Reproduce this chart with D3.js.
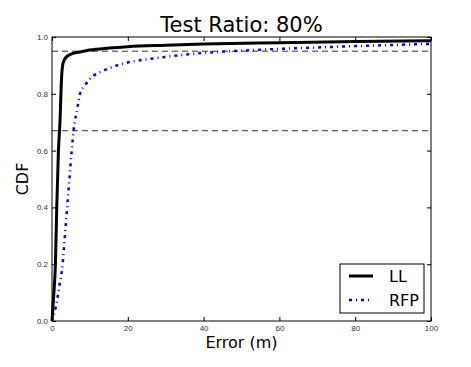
<!DOCTYPE html>
<html>
<head>
<meta charset="utf-8">
<script src="https://cdn.jsdelivr.net/npm/d3@7"></script>
<style>
  body { margin: 0; background: #fff; }
  svg { display: block; font-family: "DejaVu Sans", sans-serif; }
</style>
</head>
<body>
<div id="chart-area"></div>
<script>
// data
var llErr = [0, 0.5, 0.9, 1.25, 1.7, 2.1, 2.5, 2.8, 3.2, 3.6, 4.2, 5, 6, 8, 10, 15, 20, 30, 40, 60, 80, 100];
var llCdf = [0, 0.1, 0.2, 0.4, 0.6, 0.7, 0.85, 0.9, 0.918, 0.927, 0.934, 0.94, 0.944, 0.949, 0.954, 0.961, 0.966, 0.971, 0.975, 0.98, 0.984, 0.987];

var rfpErr = [0, 1, 1.9, 2.8, 3.4, 4.0, 4.6, 5.2, 5.7, 6.7, 7.4, 8.7, 10.6, 13.4, 16.2, 19.3, 22.3, 25.4, 30, 40, 50, 60, 70, 80, 90, 100];
var rfpCdf = [0, 0.05, 0.12, 0.2, 0.3, 0.4, 0.5, 0.6, 0.67, 0.75, 0.8, 0.83, 0.86, 0.88, 0.896, 0.908, 0.916, 0.922, 0.93, 0.944, 0.952, 0.958, 0.963, 0.968, 0.972, 0.976];

var refLines = [0.95, 0.67];
var xTicks = [0, 20, 40, 60, 80, 100];
var yTicks = [0, 0.2, 0.4, 0.6, 0.8, 1.0];

var svgWidth = 471, svgHeight = 367;
var margin = { top: 37, left: 52, right: 40, bottom: 46 };
var width = svgWidth - margin.left - margin.right;
var height = svgHeight - margin.top - margin.bottom;

var svg = d3.select("#chart-area").append("svg")
    .attr("width", svgWidth)
    .attr("height", svgHeight);

var g = svg.append("g")
    .attr("transform", "translate(" + margin.left + "," + margin.top + ")");

var x = d3.scaleLinear().domain([0, 100]).range([0, width]);
var y = d3.scaleLinear().domain([0, 1]).range([height, 0]);

// axes with inward ticks
function styleAxis(sel) {
    sel.select(".domain").remove();
    sel.selectAll("line").attr("stroke", "#000");
    sel.selectAll("text").attr("fill", "#333").attr("font-size", "8px");
}

g.append("g").attr("transform", "translate(0," + height + ")")
    .call(d3.axisBottom(x).tickValues(xTicks).tickSizeInner(-4).tickPadding(4).tickFormat(d3.format("d")))
    .call(styleAxis);
g.append("g").call(d3.axisTop(x).tickValues(xTicks).tickSizeInner(-4).tickFormat(""))
    .call(styleAxis);
g.append("g")
    .call(d3.axisLeft(y).tickValues(yTicks).tickSizeInner(-4).tickPadding(4).tickFormat(d3.format(".1f")))
    .call(styleAxis);
g.append("g").attr("transform", "translate(" + width + ",0)")
    .call(d3.axisRight(y).tickValues(yTicks).tickSizeInner(-4).tickFormat(""))
    .call(styleAxis);

// reference lines
g.selectAll(".ref").data(refLines).enter().append("line")
    .attr("x1", 0).attr("x2", width)
    .attr("y1", d => y(d)).attr("y2", d => y(d))
    .attr("stroke", "#333").attr("stroke-width", 1)
    .attr("stroke-dasharray", "6,4");

var line = d3.line().x(d => x(d[0])).y(d => y(d[1])).curve(d3.curveMonotoneX);

g.append("path")
    .datum(d3.zip(rfpErr, rfpCdf))
    .attr("d", line)
    .attr("fill", "none")
    .attr("stroke", "#0000ff")
    .attr("stroke-width", 2.5)
    .attr("stroke-dasharray", "3,4,1,4");

g.append("path")
    .datum(d3.zip(llErr, llCdf))
    .attr("d", line)
    .attr("fill", "none")
    .attr("stroke", "#000")
    .attr("stroke-width", 3);

// frame
g.append("rect")
    .attr("width", width).attr("height", height)
    .attr("fill", "none").attr("stroke", "#000").attr("stroke-width", 1);

// title and labels
svg.append("text")
    .attr("x", margin.left + width / 2).attr("y", 32)
    .attr("text-anchor", "middle").attr("font-size", "21px")
    .text("Test Ratio: 80%");

svg.append("text")
    .attr("x", margin.left + width / 2).attr("y", 348)
    .attr("text-anchor", "middle").attr("font-size", "16px")
    .text("Error (m)");

svg.append("text")
    .attr("transform", "translate(28," + (margin.top + height / 2) + ") rotate(-90)")
    .attr("text-anchor", "middle").attr("font-size", "16px")
    .text("CDF");

// legend
var lg = svg.append("g").attr("transform", "translate(340,264)");
lg.append("rect").attr("width", 84).attr("height", 49)
    .attr("fill", "#fff").attr("stroke", "#000").attr("stroke-width", 1);
var items = [
    { name: "LL", color: "#000", dash: null, w: 3 },
    { name: "RFP", color: "#0000ff", dash: "3,4,1,4", w: 2.5 }
];
items.forEach(function(it, i) {
    var yy = 12 + i * 24;
    lg.append("line").attr("x1", 9).attr("x2", 33).attr("y1", yy).attr("y2", yy)
        .attr("stroke", it.color).attr("stroke-width", it.w)
        .attr("stroke-dasharray", it.dash);
    lg.append("text").attr("x", 49).attr("y", yy + 6)
        .attr("font-size", "16px").text(it.name);
});
</script>
</body>
</html>
